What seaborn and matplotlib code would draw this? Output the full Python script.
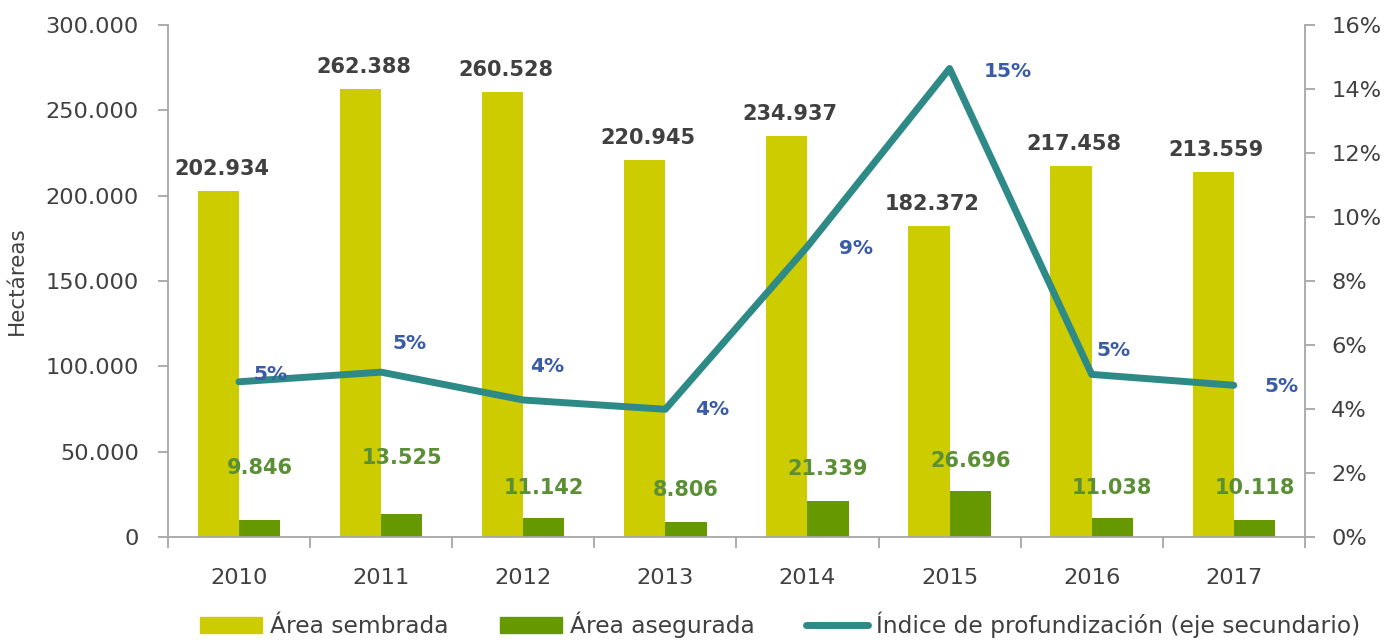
import numpy as np
import pandas as pd
import seaborn as sns
import matplotlib.pyplot as plt
from matplotlib.patches import Patch
from matplotlib.lines import Line2D
from matplotlib.ticker import FuncFormatter

# Datos
anios = ["2010", "2011", "2012", "2013", "2014", "2015", "2016", "2017"]
area_sembrada = [202934, 262388, 260528, 220945, 234937, 182372, 217458, 213559]
area_asegurada = [9846, 13525, 11142, 8806, 21339, 26696, 11038, 10118]
indice = [0.0485, 0.0515, 0.0428, 0.0399, 0.0908, 0.1464, 0.0508, 0.0474]

series = ["Área sembrada", "Área asegurada"]
nombre_linea = "Índice de profundización (eje secundario)"

# Colores
c_sembrada = "#CCCC00"
c_asegurada = "#669900"
c_linea = "#2E8A86"
c_lbl_linea = "#3A5BA5"
c_lbl_aseg = "#5B8F35"
c_texto = "#404040"
c_eje = "#A6A6A6"

sns.set_theme(style="white")
plt.rcParams["font.family"] = ["DejaVu Sans"]

df = pd.DataFrame({
    "anio": anios * 2,
    "valor": area_sembrada + area_asegurada,
    "serie": [series[0]] * len(anios) + [series[1]] * len(anios),
})

fig = plt.figure(figsize=(13.95, 6.4), dpi=100)
ax = fig.add_axes([0.1204, 0.161, 0.815, 0.8])

sns.barplot(data=df, x="anio", y="valor", hue="serie", palette=[c_sembrada, c_asegurada],
            width=0.58, saturation=1, gap=0, legend=False, linewidth=0, ax=ax)

def miles(v):
    return f"{int(v):,}".replace(",", ".")

# Etiquetas de barras
for bar in ax.containers[0]:
    ax.annotate(miles(bar.get_height()), (bar.get_x() + bar.get_width() / 2, bar.get_height()),
                xytext=(3, 12), textcoords="offset pixels", ha="center", va="bottom",
                fontsize=15, fontweight="bold", color=c_texto)

desplaz_aseg = [52, 56, 30, 32, 32, 30, 30, 32]
for bar, dy in zip(ax.containers[1], desplaz_aseg):
    ax.annotate(miles(bar.get_height()), (bar.get_x() + bar.get_width() / 2, bar.get_height()),
                xytext=(0, dy), textcoords="offset pixels", ha="center", va="center",
                fontsize=15, fontweight="bold", color=c_lbl_aseg)

ax.set_ylim(0, 300000)
ax.set_yticks(np.arange(0, 300001, 50000))
ax.yaxis.set_major_formatter(FuncFormatter(lambda v, p: miles(v)))
ax.set_xlim(-0.5, len(anios) - 0.5)
ax.set_xlabel("")
ax.set_ylabel("Hectáreas", fontsize=15.5, color=c_texto)
ax.yaxis.set_label_coords(-0.124, 0.5)

# Eje secundario
ax2 = ax.twinx()
sns.lineplot(x=np.arange(len(anios)), y=indice, ax=ax2, color=c_linea, linewidth=5,
             solid_capstyle="round", legend=False)
ax2.set_ylim(0, 0.16)
ax2.set_yticks(np.arange(0, 0.161, 0.02))
ax2.yaxis.set_major_formatter(FuncFormatter(lambda v, p: f"{v * 100:.0f}%"))
ax2.set_xlim(-0.5, len(anios) - 0.5)

desplaz_linea = [(31, 7), (28, 29), (24, 33), (47, 0), (49, -2), (58, -3), (22, 24), (48, -1)]
for i, (v, (dx, dy)) in enumerate(zip(indice, desplaz_linea)):
    ax2.annotate(f"{v * 100:.0f}%", (i, v), xytext=(dx, dy), textcoords="offset pixels",
                 ha="center", va="center", fontsize=14.5, fontweight="bold", color=c_lbl_linea)

# Estilo de ejes
for a in (ax, ax2):
    a.spines["top"].set_visible(False)
    for s in a.spines.values():
        s.set_color(c_eje)
        s.set_linewidth(1.3)
ax.spines["right"].set_visible(False)
ax2.spines["left"].set_visible(False)
ax2.spines["bottom"].set_visible(False)

ax.tick_params(axis="y", direction="out", length=7, width=1.3, color=c_eje, pad=14,
               labelsize=16.2, labelcolor=c_texto, left=True)
ax.tick_params(axis="x", which="major", length=0, pad=22, labelsize=16.2, labelcolor=c_texto)
ax.set_xticks(np.arange(-0.5, len(anios)), minor=True)
ax.tick_params(axis="x", which="minor", direction="out", length=8, width=1.3, color=c_eje, bottom=True)
ax2.tick_params(axis="y", direction="out", length=7, width=1.3, color=c_eje, pad=12,
                labelsize=16.2, labelcolor=c_texto, right=True)

# Leyenda
handles = [Patch(color=c_sembrada), Patch(color=c_asegurada),
           Line2D([0], [0], color=c_linea, linewidth=5)]
fig.legend(handles, series + [nombre_linea], loc="center left",
           bbox_to_anchor=(200 / 1395, 1 - 625 / 640), ncol=3, frameon=False,
           fontsize=16.8, handlelength=2.66, handleheight=0.7, handletextpad=0.34,
           columnspacing=2.2, borderpad=0, borderaxespad=0, labelcolor=c_texto)

fig.savefig("out.png", dpi=100)
